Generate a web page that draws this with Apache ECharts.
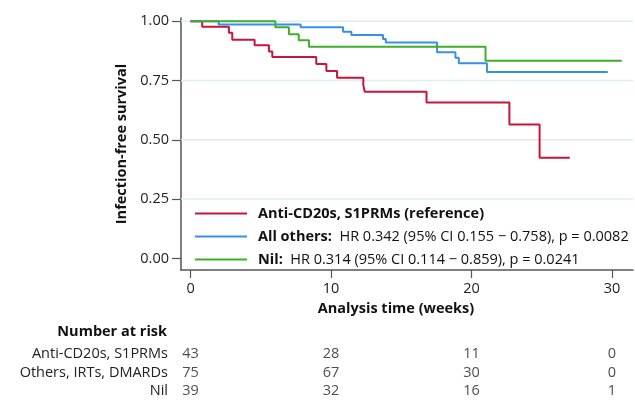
<!DOCTYPE html>
<html>
<head>
<meta charset="utf-8">
<script src="https://cdn.jsdelivr.net/npm/echarts@6/dist/echarts.min.js"></script>
<style>html,body{margin:0;padding:0;background:#fff}#c{width:635px;height:401px}</style>
</head>
<body>
<div id="c"></div>
<script>
// ---- data ----
const seriesNames = ['Anti-CD20s, S1PRMs (reference)', 'All others', 'Nil'];
const legendBold = ['Anti-CD20s, S1PRMs (reference)', 'All others:', 'Nil:'];
const legendStats = ['', 'HR 0.342 (95% CI 0.155 \u2212 0.758), p = 0.0082', 'HR 0.314 (95% CI 0.114 \u2212 0.859), p = 0.0241'];
const redCurve = [[0,1],[0.83,0.977],[2.73,0.952],[2.97,0.922],[4.56,0.899],[5.58,0.873],[5.82,0.849],[8.95,0.82],[9.67,0.79],[10.43,0.762],[12.3,0.731],[12.4,0.703],[16.8,0.658],[22.7,0.565],[24.85,0.424],[27.0,0.424]];
const blueCurve = [[0,1],[2.0,0.987],[7.84,0.975],[10.86,0.956],[11.45,0.942],[13.7,0.925],[13.9,0.911],[17.55,0.869],[18.86,0.846],[19.1,0.823],[21.1,0.786],[29.7,0.786]];
const greenCurve = [[0,1],[6.04,0.975],[7.0,0.945],[7.7,0.92],[8.43,0.893],[21.0,0.834],[30.7,0.834]];
const xTicks = [0, 10, 20, 30];
const yTicks = [0, 0.25, 0.5, 0.75, 1];
const gridValues = [0.25, 0.5, 0.75, 1];
const riskGroups = ['Anti-CD20s, S1PRMs', 'Others, IRTs, DMARDs', 'Nil'];
const riskTimes = [0, 10, 20, 30];
const riskCounts = [
  [43, 28, 11, 0],
  [75, 67, 30, 0],
  [39, 32, 16, 1]
];
const colors = ['#c8153a', '#3a8ee6', '#3fae29'];

// ---- chart ----
const FONT = 'Open Sans';
const X_MIN = -0.68, X_MAX = 31.5;
const chart = echarts.init(document.getElementById('c'), null, {renderer: 'canvas'});
const riskData = [];
riskGroups.forEach((g, i) => riskTimes.forEach((t, j) => riskData.push([t, g, riskCounts[i][j]])));
const curves = [redCurve, blueCurve, greenCurve];

const gridSeries = gridValues.map(v => ({
  type: 'line', name: '_g' + v, xAxisIndex: 0, yAxisIndex: 0, silent: true, z: 1,
  data: [[X_MIN, v], [X_MAX, v]], symbol: 'none',
  lineStyle: {color: '#e1ecef', width: 1.5}
}));

const option = {
  animation: false,
  backgroundColor: '#fff',
  textStyle: {fontFamily: FONT},
  title: {
    text: 'Number at risk',
    right: 468, top: 324, padding: 0,
    textStyle: {fontFamily: FONT, fontSize: 14.5, fontWeight: 'bold', color: '#111'}
  },
  grid: [
    {left: 181, right: 2, top: 18, bottom: 131, containLabel: false},
    {left: 181, right: 2, top: 345, height: 55, containLabel: false}
  ],
  xAxis: [
    {
      type: 'value', gridIndex: 0, min: X_MIN, max: X_MAX,
      name: 'Analysis time (weeks)', nameLocation: 'middle', nameGap: 30,
      nameTextStyle: {fontFamily: FONT, fontSize: 14.5, fontWeight: 'bold', color: '#111', padding: [0, 22, 0, 0]},
      axisLine: {show: true, onZero: false, lineStyle: {color: '#555', width: 1.5}},
      axisTick: {show: true, length: 8, lineStyle: {color: '#555', width: 1.2}, customValues: xTicks},
      axisLabel: {show: true, margin: 11, fontFamily: FONT, fontSize: 14.5, color: '#222', customValues: xTicks},
      splitLine: {show: false}
    },
    {type: 'value', gridIndex: 1, min: X_MIN, max: X_MAX, show: false}
  ],
  yAxis: [
    {
      type: 'value', gridIndex: 0, min: -0.049, max: 1.014,
      name: 'Infection-free survival', nameLocation: 'middle', nameGap: 47,
      nameTextStyle: {fontFamily: FONT, fontSize: 14.5, fontWeight: 'bold', color: '#111'},
      axisLine: {show: true, onZero: false, lineStyle: {color: '#555', width: 1.5}},
      axisTick: {show: true, length: 9, lineStyle: {color: '#555', width: 1.2}, customValues: yTicks},
      axisLabel: {show: true, margin: 12, fontFamily: FONT, fontSize: 14.5, color: '#222', customValues: yTicks,
        formatter: v => v.toFixed(2)},
      splitLine: {show: false}
    },
    {
      type: 'category', gridIndex: 1, data: riskGroups, inverse: true,
      axisLine: {show: false}, axisTick: {show: false},
      axisLabel: {interval: 0, margin: 13, fontFamily: FONT, fontSize: 14.5, color: '#222'}
    }
  ],
  legend: {
    orient: 'vertical', left: 195, top: 206, padding: 0,
    itemWidth: 52, itemHeight: 14, itemGap: 8,
    data: seriesNames.map((n, i) => ({name: n, icon: 'path://M0,0L52,0L52,2L0,2Z', itemStyle: {color: colors[i]}})),
    textStyle: {
      fontFamily: FONT, fontSize: 14.5, color: '#111', padding: [0, 0, 0, 6],
      rich: {b: {fontFamily: FONT, fontSize: 14.5, fontWeight: 'bold', color: '#111'}}
    },
    formatter: name => {
      const i = seriesNames.indexOf(name);
      return '{b|' + legendBold[i] + '}' + (legendStats[i] ? '  ' + legendStats[i] : '');
    }
  },
  series: gridSeries.concat(curves.map((c, i) => ({
    type: 'line', name: seriesNames[i], xAxisIndex: 0, yAxisIndex: 0,
    data: c, step: 'end', symbol: 'none', z: 3 + i,
    lineStyle: {color: colors[i], width: 2}, itemStyle: {color: colors[i]}
  }))).concat([{
    type: 'scatter', name: '_risk', xAxisIndex: 1, yAxisIndex: 1,
    data: riskData, symbolSize: 0, silent: true,
    label: {show: true, position: 'inside', fontFamily: FONT, fontSize: 14.5, color: '#222',
      formatter: p => String(p.value[2])}
  }])
};
chart.setOption(option);
</script>
</body>
</html>
